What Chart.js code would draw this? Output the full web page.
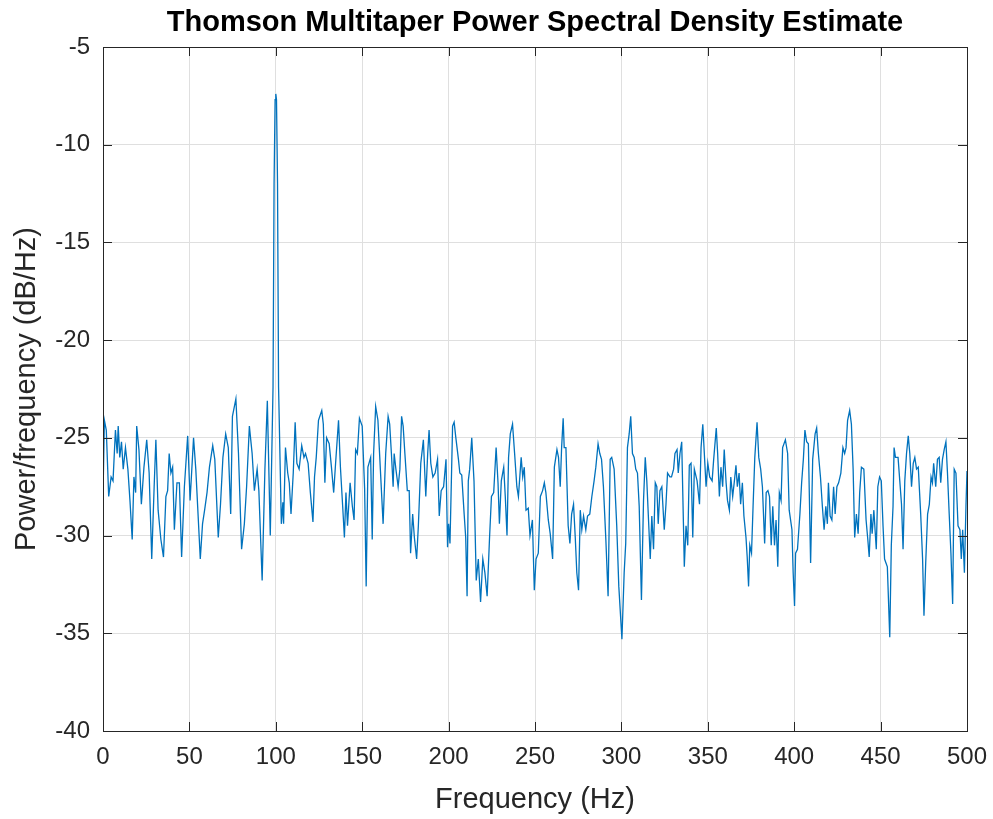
<!DOCTYPE html>
<html>
<head>
<meta charset="utf-8">
<script src="https://cdn.jsdelivr.net/npm/chart.js@4.4.1/dist/chart.umd.min.js"></script>
<style>
  html, body { margin: 0; padding: 0; background: #ffffff; }
  canvas { display: block; }
</style>
</head>
<body>
<canvas id="psdChart" width="993" height="819"></canvas>
<script>
// frequency (Hz) of each traced vertex
const freqs = [
  0, 0.8, 1.9, 3.3, 4.7, 5.8, 7.2, 8.2, 8.8, 9.7, 10.7, 11.7, 13.0, 14.4, 15.6, 16.9, 17.9, 18.9, 19.5, 20.8,
  22.2, 23.7, 25.3, 26.7, 28.2, 29.6, 30.6, 31.9, 33.5, 35.0, 36.4, 37.4, 38.3, 39.3, 40.3, 41.3, 42.8, 44.2, 45.5, 47.1,
  49.0, 50.4, 52.4, 53.7, 56.3, 57.6, 58.8, 60.2, 61.6, 63.5, 64.7, 66.7, 68.0, 69.4, 71.0, 72.5, 73.9, 74.9, 76.9, 78.4,
  80.2, 81.8, 83.1, 84.7, 86.3, 87.6, 89.2, 90.2, 92.1, 93.7, 95.1, 96.8, 98.4, 99.0, 99.6, 100.0, 100.4, 101.0, 101.6, 103.2,
  104.1, 104.5, 105.6, 106.9, 107.8, 108.8, 110.1, 111.2, 112.2, 113.5, 115.0, 116.3, 117.2, 118.7, 120.0, 121.5, 122.4, 123.4, 124.7, 126.6,
  127.5, 128.4, 129.4, 130.9, 132.2, 133.5, 134.6, 136.3, 137.4, 138.7, 139.7, 140.6, 141.5, 143.0, 144.3, 145.3, 146.2, 147.2, 148.4, 150.0,
  151.4, 152.3, 153.3, 154.9, 155.8, 156.6, 157.8, 159.1, 160.5, 162.1, 163.6, 165.0, 165.9, 166.9, 167.9, 168.5, 169.5, 170.8, 171.8, 172.8,
  173.7, 174.7, 176.1, 177.2, 178.0, 179.2, 180.2, 181.5, 182.5, 183.9, 185.4, 186.8, 187.9, 188.7, 189.7, 190.9, 192.2, 193.6, 194.6, 195.7,
  197.1, 198.5, 199.4, 200.0, 200.8, 202.3, 203.2, 204.2, 205.7, 206.5, 207.6, 209.0, 209.9, 210.7, 211.4, 212.2, 213.4, 214.7, 216.0, 217.2,
  218.5, 219.8, 221.0, 222.3, 223.7, 224.8, 226.1, 227.5, 228.6, 229.4, 230.5, 231.9, 232.8, 233.8, 234.7, 235.7, 237.0, 238.2, 239.5, 240.4,
  242.0, 242.9, 243.8, 244.8, 246.1, 247.1, 248.5, 249.6, 250.6, 251.9, 253.1, 254.4, 255.4, 256.3, 257.7, 258.8, 260.2, 261.2, 262.7, 263.6,
  264.6, 265.4, 266.3, 266.9, 267.9, 269.2, 270.2, 271.2, 272.3, 273.3, 274.2, 275.2, 276.2, 277.1, 278.1, 279.4, 280.4, 281.7, 282.9, 284.2,
  285.2, 286.5, 287.5, 288.5, 289.6, 291.0, 292.3, 293.5, 294.4, 295.8, 297.3, 298.5, 300.3, 301.6, 302.5, 303.5, 304.5, 305.4, 306.4, 307.4,
  308.3, 309.3, 310.3, 311.6, 312.8, 313.8, 314.7, 315.7, 316.7, 317.6, 318.6, 319.6, 320.5, 321.3, 322.3, 323.4, 324.8, 325.8, 326.7, 328.1,
  329.0, 330.2, 331.0, 332.2, 332.9, 333.9, 334.9, 335.9, 336.4, 337.4, 338.4, 339.3, 340.3, 341.3, 342.2, 343.8, 345.2, 346.1, 347.1, 349.0,
  350.0, 351.1, 352.5, 353.4, 354.9, 355.7, 356.7, 357.6, 358.6, 359.5, 360.6, 361.4, 362.5, 363.3, 364.4, 365.4, 366.3, 367.1, 368.1, 369.0,
  370.0, 370.9, 372.1, 372.8, 373.6, 374.3, 375.3, 376.2, 377.2, 378.5, 379.5, 380.6, 381.6, 382.9, 383.8, 384.8, 385.7, 386.7, 387.6, 388.6,
  389.5, 390.5, 391.4, 392.4, 393.3, 394.9, 396.2, 397.1, 398.7, 399.4, 400.2, 400.8, 401.9, 403.3, 404.3, 405.3, 406.2, 407.2, 408.2, 409.5,
  410.7, 412.1, 413.0, 414.0, 415.2, 416.3, 417.3, 418.3, 419.2, 419.8, 420.8, 421.8, 422.8, 423.7, 424.7, 425.7, 427.0, 428.2, 429.2, 430.0,
  430.9, 432.1, 433.1, 434.1, 435.0, 436.0, 437.0, 437.9, 438.9, 440.3, 441.6, 442.6, 443.4, 444.4, 445.1, 446.1, 447.5, 448.4, 449.4, 450.4,
  451.4, 452.3, 453.9, 455.3, 456.2, 457.2, 457.8, 458.6, 460.1, 461.1, 462.1, 463.0, 464.0, 465.0, 466.0, 466.9, 467.9, 468.9, 469.8, 470.8,
  471.8, 473.2, 474.3, 475.1, 476.1, 477.2, 478.2, 479.2, 480.0, 480.7, 481.9, 482.9, 483.9, 484.8, 485.8, 486.8, 487.8, 488.7, 489.7, 490.7,
  491.7, 492.6, 493.6, 494.8, 495.9, 496.7, 497.5, 498.5, 499.4, 500.0
];

// power/frequency (dB/Hz) at each vertex
const psdDb = [
  -28.0, -24.1, -24.6, -28.0, -27.0, -27.2, -24.6, -25.8, -24.4, -26.0, -25.2, -26.6, -25.5, -26.6, -28.2, -30.2, -27.0, -27.8, -24.4, -25.6,
  -28.4, -26.5, -25.1, -26.8, -31.2, -27.5, -25.1, -28.7, -30.2, -31.1, -28.0, -27.7, -25.8, -26.8, -26.5, -29.7, -27.3, -27.3, -31.1, -27.5,
  -24.9, -28.2, -25.0, -26.6, -31.2, -29.4, -28.7, -27.8, -26.5, -25.4, -26.1, -30.1, -28.4, -26.0, -24.8, -25.5, -28.9, -23.9, -23.0, -25.8,
  -30.7, -29.4, -27.5, -24.4, -25.8, -27.7, -26.6, -27.7, -32.3, -26.6, -23.1, -30.0, -22.4, -12.0, -7.7, -7.4, -7.7, -12.0, -22.4, -29.4,
  -28.3, -29.4, -25.5, -26.8, -27.3, -28.9, -26.8, -24.2, -26.3, -26.6, -25.4, -26.0, -25.8, -26.3, -27.8, -29.3, -27.0, -26.0, -24.1, -23.6,
  -24.3, -27.3, -25.0, -25.3, -26.5, -27.8, -26.3, -24.1, -26.5, -28.5, -30.1, -27.8, -29.5, -27.3, -28.5, -29.2, -25.6, -25.8, -24.0, -24.4,
  -27.6, -32.6, -26.5, -26.0, -30.2, -25.8, -23.4, -24.1, -26.6, -29.4, -25.8, -23.9, -24.3, -25.8, -27.5, -25.8, -26.6, -27.5, -26.6, -23.9,
  -24.4, -25.8, -27.7, -27.7, -30.9, -28.9, -30.1, -31.2, -29.5, -26.3, -25.1, -28.0, -25.8, -24.6, -26.3, -27.0, -26.8, -26.1, -29.0, -27.7,
  -27.5, -26.1, -30.6, -29.4, -30.4, -24.4, -24.2, -25.0, -26.1, -26.8, -26.9, -28.9, -30.1, -33.1, -27.2, -26.6, -25.0, -27.2, -32.3, -31.2,
  -33.4, -31.2, -31.9, -33.1, -30.1, -28.0, -27.8, -25.5, -27.3, -29.4, -27.2, -26.5, -28.0, -30.0, -26.0, -24.8, -24.3, -25.8, -27.5, -28.0,
  -26.0, -27.0, -26.5, -28.7, -28.6, -30.0, -29.2, -32.8, -31.2, -30.9, -28.0, -27.7, -27.3, -27.8, -29.2, -29.9, -31.2, -26.5, -25.6, -26.0,
  -27.5, -25.5, -24.0, -25.5, -25.5, -29.5, -30.4, -28.9, -28.4, -30.1, -31.9, -32.8, -28.7, -29.7, -29.0, -29.7, -29.0, -28.9, -28.0, -27.2,
  -26.5, -25.3, -25.8, -26.1, -27.5, -30.2, -33.1, -26.1, -26.0, -26.6, -29.5, -32.6, -35.3, -31.9, -30.4, -25.5, -24.8, -23.9, -25.8, -26.0,
  -26.6, -26.8, -28.5, -33.3, -28.2, -26.0, -27.2, -29.2, -31.2, -29.0, -30.7, -27.3, -27.5, -29.4, -27.7, -27.5, -29.7, -28.4, -26.8, -27.0,
  -27.0, -26.6, -25.8, -25.6, -26.8, -25.8, -25.2, -29.4, -31.6, -29.5, -30.5, -26.4, -26.3, -30.1, -26.6, -27.2, -28.4, -25.5, -24.3, -27.5,
  -26.3, -27.0, -27.2, -26.1, -24.5, -25.8, -28.0, -26.5, -27.5, -25.6, -27.3, -28.2, -28.7, -27.0, -28.0, -27.2, -26.4, -27.5, -26.8, -28.4,
  -27.3, -29.0, -30.1, -31.1, -32.6, -30.5, -30.9, -28.5, -26.0, -24.2, -26.0, -26.6, -27.5, -30.4, -27.8, -27.7, -28.0, -30.5, -28.5, -30.5,
  -29.2, -31.6, -27.8, -28.2, -25.5, -25.1, -25.8, -28.7, -29.7, -31.9, -33.6, -30.9, -30.7, -28.9, -27.3, -26.1, -24.6, -25.2, -25.3, -31.4,
  -26.1, -24.8, -24.5, -25.8, -27.0, -28.5, -29.7, -28.5, -29.4, -27.3, -29.0, -29.2, -27.5, -28.9, -27.5, -27.3, -26.8, -25.5, -25.8, -25.5,
  -24.1, -23.6, -24.3, -26.6, -30.1, -28.9, -29.9, -27.8, -26.5, -26.6, -29.2, -30.2, -31.1, -28.9, -29.9, -28.7, -30.7, -27.5, -27.0, -27.2,
  -29.5, -31.2, -31.6, -35.2, -30.5, -28.5, -25.5, -26.0, -26.0, -27.2, -28.4, -30.7, -27.2, -25.8, -24.9, -25.8, -27.5, -26.3, -26.0, -26.6,
  -26.5, -28.9, -31.2, -34.1, -31.4, -28.9, -28.4, -27.0, -27.3, -26.3, -27.5, -26.1, -26.0, -27.3, -26.1, -25.6, -25.2, -26.8, -28.9, -30.9,
  -33.5, -26.6, -26.8, -29.5, -29.7, -31.2, -29.7, -31.9, -28.5, -26.7
];

const xTicks = [0, 50, 100, 150, 200, 250, 300, 350, 400, 450, 500];
const yTicks = [-40, -35, -30, -25, -20, -15, -10, -5];

const axisColor = "#262626";
const gridColor = "#dfdfdf";
const lineColor = "#0072BD";
const fontFamily = "'Liberation Sans', Arial, Helvetica, sans-serif";

// MATLAB style box with inward tick marks
const boxPlugin = {
  id: "matlabBox",
  afterDraw(chart) {
    const { ctx, chartArea, scales } = chart;
    const { left, right, top, bottom } = chartArea;
    const tickLen = 9;
    ctx.save();
    ctx.strokeStyle = axisColor;
    ctx.lineWidth = 1;
    ctx.beginPath();
    xTicks.forEach((v) => {
      const px = Math.round(scales.x.getPixelForValue(v)) + 0.5;
      ctx.moveTo(px, bottom);
      ctx.lineTo(px, bottom - tickLen);
      ctx.moveTo(px, top);
      ctx.lineTo(px, top + tickLen);
    });
    yTicks.forEach((v) => {
      const py = Math.round(scales.y.getPixelForValue(v)) + 0.5;
      ctx.moveTo(left, py);
      ctx.lineTo(left + tickLen, py);
      ctx.moveTo(right, py);
      ctx.lineTo(right - tickLen, py);
    });
    ctx.stroke();
    ctx.strokeRect(Math.round(left) + 0.5, Math.round(top) + 0.5, Math.round(right - left), Math.round(bottom - top));
    ctx.restore();
  },
};

const ctx = document.getElementById("psdChart").getContext("2d");
new Chart(ctx, {
  type: "line",
  data: {
    datasets: [
      {
        label: "PSD",
        data: freqs.map((f, i) => ({ x: f, y: psdDb[i] })),
        borderColor: lineColor,
        borderWidth: 1.3,
        pointRadius: 0,
        fill: false,
        tension: 0,
      },
    ],
  },
  options: {
    responsive: false,
    animation: false,
    events: [],
    layout: { padding: { left: 0, right: 26, top: 0, bottom: 0 } },
    plugins: {
      legend: { display: false },
      tooltip: { enabled: false },
      title: {
        display: true,
        fullSize: false,
        text: "Thomson Multitaper Power Spectral Density Estimate",
        color: "#000000",
        font: { family: fontFamily, size: 29, weight: "bold" },
        padding: { top: 5.6, bottom: 6.6 },
      },
    },
    scales: {
      x: {
        type: "linear",
        min: 0,
        max: 500,
        afterBuildTicks: (scale) => {
          scale.ticks = xTicks.map((v) => ({ value: v }));
        },
        afterFit: (scale) => {
          scale.height = 88;
          scale.paddingLeft = 0;
          scale.paddingRight = 0;
        },
        grid: { color: gridColor, drawTicks: false, tickLength: 0 },
        border: { display: false },
        ticks: {
          color: axisColor,
          font: { family: fontFamily, size: 24 },
          padding: 12,
          maxRotation: 0,
          autoSkip: false,
        },
        title: {
          display: true,
          text: "Frequency (Hz)",
          color: axisColor,
          font: { family: fontFamily, size: 29 },
          padding: { top: 0, bottom: 1.6 },
        },
      },
      y: {
        type: "linear",
        min: -40,
        max: -5,
        afterBuildTicks: (scale) => {
          scale.ticks = yTicks.map((v) => ({ value: v }));
        },
        afterFit: (scale) => {
          scale.width = 103;
          scale.paddingTop = 0;
          scale.paddingBottom = 0;
        },
        grid: { color: gridColor, drawTicks: false, tickLength: 0 },
        border: { display: false },
        ticks: {
          color: axisColor,
          font: { family: fontFamily, size: 24 },
          padding: 13,
          autoSkip: false,
        },
        title: {
          display: true,
          text: "Power/frequency (dB/Hz)",
          color: axisColor,
          font: { family: fontFamily, size: 29 },
          padding: { top: 9.6, bottom: 0 },
        },
      },
    },
  },
  plugins: [boxPlugin],
});
</script>
</body>
</html>
